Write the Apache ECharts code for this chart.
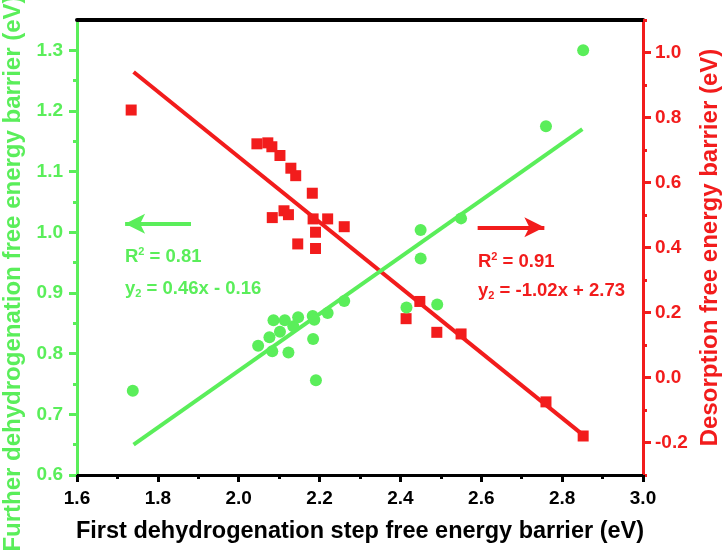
<!DOCTYPE html>
<html><head><meta charset="utf-8">
<script src="https://cdn.jsdelivr.net/npm/echarts@6/dist/echarts.min.js"></script>
<style>html,body{margin:0;padding:0;background:#fff}#c{width:726px;height:553px}</style>
</head><body><div id="c"></div>
<script>
// Further dehydrogenation free energy barrier (left axis, green circles)
const greenX = [1.738, 2.048, 2.076, 2.083, 2.086, 2.102, 2.114, 2.123, 2.135, 2.147, 2.183, 2.187, 2.184, 2.191, 2.220, 2.261, 2.415, 2.491, 2.450, 2.450, 2.550, 2.760, 2.852];
const greenY = [0.739, 0.813, 0.827, 0.804, 0.855, 0.836, 0.855, 0.802, 0.845, 0.860, 0.862, 0.856, 0.824, 0.756, 0.867, 0.887, 0.876, 0.881, 1.004, 0.957, 1.023, 1.175, 1.300];
// Desorption free energy barrier (right axis, red squares)
const redX = [1.734, 2.045, 2.072, 2.082, 2.102, 2.129, 2.141, 2.182, 2.083, 2.112, 2.123, 2.184, 2.220, 2.190, 2.261, 2.146, 2.190, 2.448, 2.414, 2.490, 2.550, 2.760, 2.852];
const redY = [0.823, 0.719, 0.722, 0.710, 0.683, 0.644, 0.621, 0.567, 0.492, 0.513, 0.501, 0.488, 0.488, 0.447, 0.464, 0.411, 0.397, 0.234, 0.181, 0.139, 0.134, -0.075, -0.180];
// Linear fits
const greenFitX = [1.74, 2.85];
const greenFitY = [0.65, 1.17];
const redFitX = [1.74, 2.85];
const redFitY = [0.94, -0.175];
// Arrows
const greenArrowX = [1.882, 1.719];
const greenArrowY = 1.014;
const redArrowX = [2.591, 2.756];
const redArrowY = 0.462;
// Tick values
const leftTicks = [0.6, 0.7, 0.8, 0.9, 1.0, 1.1, 1.2, 1.3];
const leftMinorTicks = [0.65, 0.75, 0.85, 0.95, 1.05, 1.15, 1.25];
const rightTicks = [-0.2, 0.0, 0.2, 0.4, 0.6, 0.8, 1.0];
const rightMinorTicks = [-0.3, -0.1, 0.1, 0.3, 0.5, 0.7, 0.9, 1.1];
const xTicks = [1.6, 1.8, 2.0, 2.2, 2.4, 2.6, 2.8, 3.0];
const xMinorTicks = [1.7, 1.9, 2.1, 2.3, 2.5, 2.7, 2.9];

const GREEN = '#5aee5a';
const RED = '#f21c1c';
const FONT = '"Liberation Sans", Arial, sans-serif';

const chart = echarts.init(document.getElementById('c'), null, {renderer: 'canvas'});
const richT = (color) => ({
  n: {fontSize: 18.5, fontWeight: 'bold', fill: color, fontFamily: FONT, lineHeight: 22},
  sup: {fontSize: 11, fontWeight: 'bold', fill: color, fontFamily: FONT, verticalAlign: 'top', lineHeight: 22},
  sub: {fontSize: 11, fontWeight: 'bold', fill: color, fontFamily: FONT, verticalAlign: 'bottom', lineHeight: 16}
});
const minorAxis = (pos, mn, mx, vals, color) => ({
  type: 'value', min: mn, max: mx, position: pos,
  axisLine: {show: false, onZero: false},
  axisTick: {show: true, inside: false, length: 4, customValues: vals, lineStyle: {color: color, width: 3}},
  axisLabel: {show: false, customValues: vals},
  splitLine: {show: false}
});
chart.setOption({
  animation: false,
  backgroundColor: '#fff',
  grid: {left: 77, right: 83, top: 20, bottom: 78, containLabel: false, outerBoundsMode: 'none'},
  xAxis: [{
    type: 'value', min: 1.6, max: 3.0, interval: 0.2, position: 'bottom',
    name: 'First dehydrogenation step free energy barrier (eV)', nameLocation: 'middle', nameGap: 45,
    nameTextStyle: {fontSize: 23.5, fontWeight: 'bold', color: '#000', fontFamily: FONT},
    axisLine: {show: true, onZero: false, lineStyle: {color: '#000', width: 3}},
    axisTick: {show: true, inside: false, length: 7, customValues: xTicks, lineStyle: {color: '#000', width: 3}},
    axisLabel: {margin: 14, fontSize: 19, fontWeight: 'bold', color: '#000', fontFamily: FONT,
      customValues: xTicks, formatter: v => v.toFixed(1)},
    splitLine: {show: false}
  }, {
    type: 'value', min: 1.6, max: 3.0, position: 'top',
    axisLine: {show: true, onZero: false, lineStyle: {color: '#000', width: 4}},
    axisTick: {show: false}, axisLabel: {show: false}, splitLine: {show: false}
  },
  minorAxis('bottom', 1.6, 3.0, xMinorTicks, '#000')
  ],
  yAxis: [{
    type: 'value', min: 0.6, max: 1.35, interval: 0.1, position: 'left',
    name: 'Further dehydrogenation free energy barrier (eV)', nameLocation: 'middle', nameGap: 47,
    nameTextStyle: {fontSize: 24, fontWeight: 'bold', color: GREEN, fontFamily: FONT, padding: [0, 52, 0, 0]},
    axisLine: {show: true, onZero: false, lineStyle: {color: GREEN, width: 3}},
    axisTick: {show: true, inside: false, length: 8, customValues: leftTicks, lineStyle: {color: GREEN, width: 3}},
    axisLabel: {margin: 14, fontSize: 19, fontWeight: 'bold', color: GREEN, fontFamily: FONT,
      customValues: leftTicks, formatter: v => v.toFixed(1)},
    splitLine: {show: false}
  }, {
    type: 'value', min: -0.3, max: 1.1, splitNumber: 7, position: 'right',
    name: 'Desorption free energy barrier (eV)', nameLocation: 'middle', nameGap: 53,
    nameTextStyle: {fontSize: 24, fontWeight: 'bold', color: RED, fontFamily: FONT},
    axisLine: {show: true, onZero: false, lineStyle: {color: RED, width: 3}},
    axisTick: {show: true, inside: false, length: 8, customValues: rightTicks, lineStyle: {color: RED, width: 3}},
    axisLabel: {margin: 12, fontSize: 19, fontWeight: 'bold', color: RED, fontFamily: FONT,
      customValues: rightTicks, formatter: v => v.toFixed(1)},
    splitLine: {show: false}
  },
  minorAxis('right', -0.3, 1.1, rightMinorTicks, RED),
  minorAxis('left', 0.6, 1.35, leftMinorTicks, GREEN)
  ],
  graphic: [
    {type: 'text', left: 125, top: 246, z: 100, style: {text: '{n|R}{sup|2}{n| = 0.81}', rich: richT(GREEN)}},
    {type: 'text', left: 125, top: 279, z: 100, style: {text: '{n|y}{sub|2}{n| = 0.46x - 0.16}', rich: richT(GREEN)}},
    {type: 'text', left: 478, top: 251, z: 100, style: {text: '{n|R}{sup|2}{n| = 0.91}', rich: richT(RED)}},
    {type: 'text', left: 478, top: 281, z: 100, style: {text: '{n|y}{sub|2}{n| = -1.02x + 2.73}', rich: richT(RED)}}
  ],
  series: [
    {
      type: 'line', xAxisIndex: 0, yAxisIndex: 1, z: 2,
      data: redFitX.map((x, i) => [x, redFitY[i]]),
      symbol: 'none', lineStyle: {color: RED, width: 4}, silent: true
    },
    {
      type: 'line', xAxisIndex: 0, yAxisIndex: 0, z: 2,
      data: greenFitX.map((x, i) => [x, greenFitY[i]]),
      symbol: 'none', lineStyle: {color: GREEN, width: 4}, silent: true,
      markLine: {
        silent: true, symbol: ['none', 'arrow'], symbolSize: [15, 20], label: {show: false},
        lineStyle: {color: GREEN, width: 4, type: 'solid', opacity: 1},
        data: [[{coord: [greenArrowX[0], greenArrowY]}, {coord: [greenArrowX[1], greenArrowY]}]]
      }
    },
    {
      type: 'scatter', xAxisIndex: 0, yAxisIndex: 1, z: 3,
      data: redX.map((x, i) => [x, redY[i]]),
      symbol: 'rect', symbolSize: 11, itemStyle: {color: RED, opacity: 1},
      markLine: {
        silent: true, symbol: ['none', 'arrow'], symbolSize: [15, 20], label: {show: false},
        lineStyle: {color: RED, width: 4, type: 'solid', opacity: 1},
        data: [[{coord: [redArrowX[0], redArrowY]}, {coord: [redArrowX[1], redArrowY]}]]
      }
    },
    {
      type: 'scatter', xAxisIndex: 0, yAxisIndex: 0, z: 4,
      data: greenX.map((x, i) => [x, greenY[i]]),
      symbol: 'circle', symbolSize: 12, itemStyle: {color: GREEN, opacity: 1}
    }
  ]
});
</script></body></html>
